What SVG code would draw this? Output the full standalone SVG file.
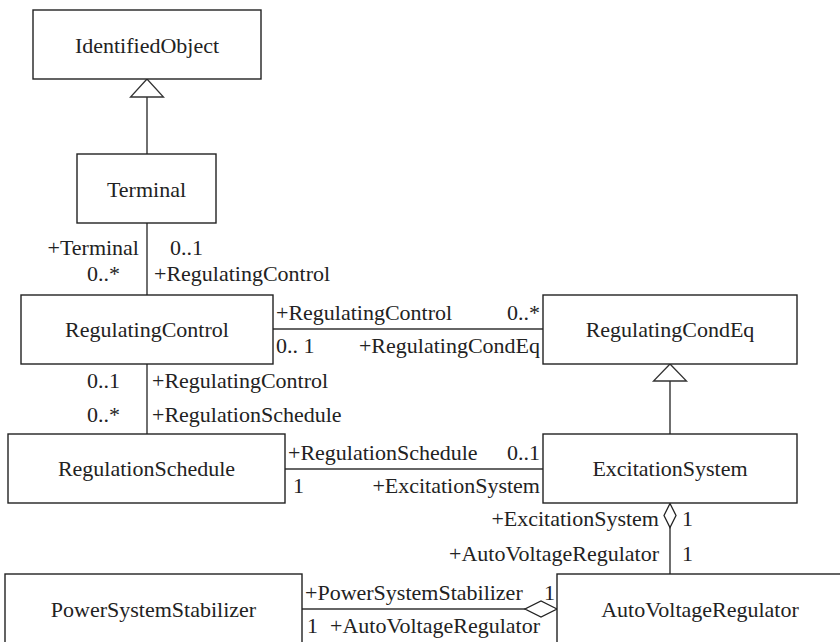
<svg xmlns="http://www.w3.org/2000/svg" width="840" height="642" viewBox="0 0 840 642">
  <style>
    .box { fill: #ffffff; stroke: #222222; stroke-width: 1.4; }
    .edge { fill: none; stroke: #333333; stroke-width: 1.4; }
    .tri { fill: #ffffff; stroke: #333333; stroke-width: 1.3; }
    .dia { fill: #ffffff; stroke: #222222; stroke-width: 1.3; }
    text { font-family: "Liberation Serif", "Times New Roman", serif; font-size: 22px; fill: #222222; }
    .name { text-anchor: middle; }
    .end { text-anchor: end; }
  </style>
  <rect width="840" height="642" fill="#ffffff"/>

  <!-- associations and generalizations -->
  <g id="connectors">
    <!-- Terminal generalizes IdentifiedObject -->
    <line class="edge" x1="147" y1="97" x2="147" y2="154"/>
    <polygon class="tri" points="147,79 130.5,97 163.5,97"/>
    <!-- Terminal - RegulatingControl -->
    <line class="edge" x1="147" y1="223" x2="147" y2="295"/>
    <!-- RegulatingControl - RegulatingCondEq -->
    <line class="edge" x1="273" y1="329" x2="543" y2="329"/>
    <!-- RegulatingControl - RegulationSchedule -->
    <line class="edge" x1="147" y1="364" x2="147" y2="434"/>
    <!-- ExcitationSystem generalizes RegulatingCondEq -->
    <line class="edge" x1="670" y1="381" x2="670" y2="434"/>
    <polygon class="tri" points="670,364 653.5,381 686.5,381"/>
    <!-- RegulationSchedule - ExcitationSystem -->
    <line class="edge" x1="285" y1="469" x2="543" y2="469"/>
    <!-- ExcitationSystem aggregates AutoVoltageRegulator -->
    <line class="edge" x1="670" y1="527" x2="670" y2="574"/>
    <polygon class="dia" points="670,503.5 676,515.5 670,527.5 664,515.5"/>
    <!-- AutoVoltageRegulator aggregates PowerSystemStabilizer -->
    <line class="edge" x1="302" y1="609" x2="525" y2="609"/>
    <polygon class="dia" points="557,609 541,601 525,609 541,617"/>

    <!-- role names and multiplicities -->
    <text class="end" x="139" y="255">+Terminal</text>
    <text x="170" y="255">0..1</text>
    <text class="end" x="120" y="281">0..*</text>
    <text x="154" y="281">+RegulatingControl</text>

    <text x="276" y="320">+RegulatingControl</text>
    <text class="end" x="540" y="320">0..*</text>
    <text x="276" y="353">0.. 1</text>
    <text class="end" x="540" y="353">+RegulatingCondEq</text>

    <text class="end" x="120" y="388">0..1</text>
    <text x="152" y="388">+RegulatingControl</text>
    <text class="end" x="120" y="422">0..*</text>
    <text x="152" y="422">+RegulationSchedule</text>

    <text x="288" y="460">+RegulationSchedule</text>
    <text class="end" x="540" y="460">0..1</text>
    <text x="293" y="493">1</text>
    <text class="end" x="540" y="493">+ExcitationSystem</text>

    <text class="end" x="659" y="526">+ExcitationSystem</text>
    <text x="682" y="526">1</text>
    <text class="end" x="659" y="561">+AutoVoltageRegulator</text>
    <text x="682" y="561">1</text>

    <text x="305" y="600">+PowerSystemStabilizer</text>
    <text class="end" x="555" y="600">1</text>
    <text x="307" y="633">1</text>
    <text x="330" y="633">+AutoVoltageRegulator</text>
  </g>

  <g id="IdentifiedObject">
    <rect class="box" x="33" y="10" width="228" height="69"/>
    <text class="name" x="147" y="53">IdentifiedObject</text>
  </g>
  <g id="Terminal">
    <rect class="box" x="77" y="154" width="139" height="69"/>
    <text class="name" x="146.5" y="197">Terminal</text>
  </g>
  <g id="RegulatingControl">
    <rect class="box" x="21" y="295" width="252" height="69"/>
    <text class="name" x="147" y="337">RegulatingControl</text>
  </g>
  <g id="RegulatingCondEq">
    <rect class="box" x="543" y="295" width="254" height="69"/>
    <text class="name" x="670" y="337">RegulatingCondEq</text>
  </g>
  <g id="RegulationSchedule">
    <rect class="box" x="8" y="434" width="277" height="69"/>
    <text class="name" x="146.5" y="476">RegulationSchedule</text>
  </g>
  <g id="ExcitationSystem">
    <rect class="box" x="543" y="434" width="254" height="69"/>
    <text class="name" x="670" y="476">ExcitationSystem</text>
  </g>
  <g id="PowerSystemStabilizer">
    <rect class="box" x="5" y="574" width="297" height="80"/>
    <text class="name" x="153.5" y="617">PowerSystemStabilizer</text>
  </g>
  <g id="AutoVoltageRegulator">
    <rect class="box" x="557" y="574" width="300" height="80"/>
    <text class="name" x="700" y="617">AutoVoltageRegulator</text>
  </g>
</svg>
